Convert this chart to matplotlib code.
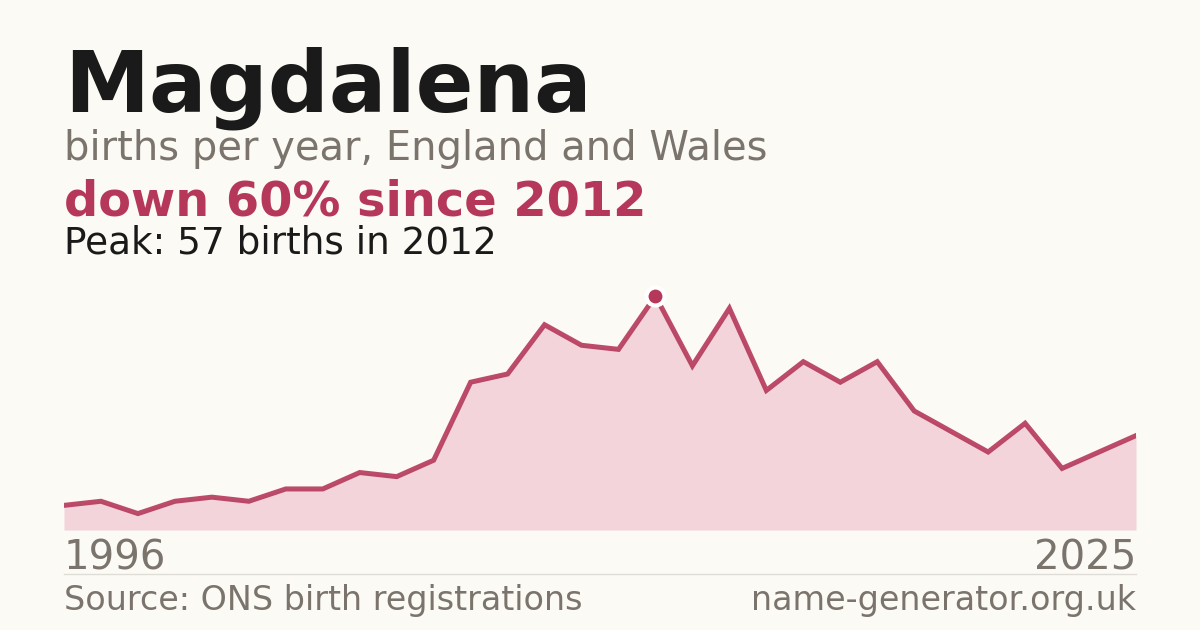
import matplotlib
matplotlib.use("Agg")
import matplotlib.pyplot as plt

# births per year for "Magdalena"
years = list(range(1996, 2026))
births = [6, 7, 4, 7, 8, 7, 10, 10, 14, 13, 17, 36, 38, 50, 45, 44, 57, 40,
          54, 34, 41, 36, 41, 29, 24, 19, 26, 15, 19, 23]

name = "Magdalena"
subtitle = "births per year, England and Wales"
headline = "down 60% since 2012"
peak_note = "Peak: 57 births in 2012"
source = "Source: ONS birth registrations"
site = "name-generator.org.uk"

BG = "#fbfaf5"
DARK = "#1a1a1a"
GREY = "#7a746c"
RED = "#b5385a"
FILL = "#f2d4da"

plt.rcParams['font.family'] = ['DejaVu Sans']

W, H = 1200, 630
fig = plt.figure(figsize=(W / 100, H / 100), dpi=100, facecolor=BG)


def px(x, y):
    return x / W, 1 - y / H


L, R, TOP, BOT = 64, 1136, 296, 530
ax = fig.add_axes([L / W, (H - BOT) / H, (R - L) / W, (BOT - TOP) / H])
ax.set_facecolor("none")
ax.fill_between(years, births, 0, color=FILL, lw=0)
ax.plot(years, births, color=RED, lw=3.6, solid_joinstyle="miter", alpha=0.9)
pk = births.index(max(births))
ax.plot(years[pk], births[pk], "o", ms=13, color=RED, mec="white", mew=3,
        clip_on=False, zorder=5)
ax.axhline(0, color="#e0dcd6", lw=1)
ax.set_xlim(years[0], years[-1])
ax.set_ylim(0, max(births))
ax.axis("off")

fig.text(*px(64, 112), name, fontsize=61.5, fontweight="bold", color=DARK, va="baseline")
fig.text(*px(64, 160), subtitle, fontsize=28.8, color=GREY, va="baseline")
fig.text(*px(64, 215), headline, fontsize=34.5, fontweight="bold", color=RED, va="baseline")
fig.text(*px(64, 254), peak_note, fontsize=26.9, color=DARK, va="baseline")

fig.text(*px(64, 570), str(years[0]), fontsize=29, color=GREY, va="baseline")
fig.text(*px(1136, 570), str(years[-1]), fontsize=29, color=GREY, va="baseline", ha="right")

fig.add_artist(plt.Line2D([L / W, R / W], [1 - 574 / H] * 2, color="#e0dcd6", lw=1))

fig.text(*px(64, 610), source, fontsize=24, color=GREY, va="baseline")
fig.text(*px(1136, 610), site, fontsize=24, color=GREY, va="baseline", ha="right")

fig.savefig("out.png", dpi=100, facecolor=BG)
